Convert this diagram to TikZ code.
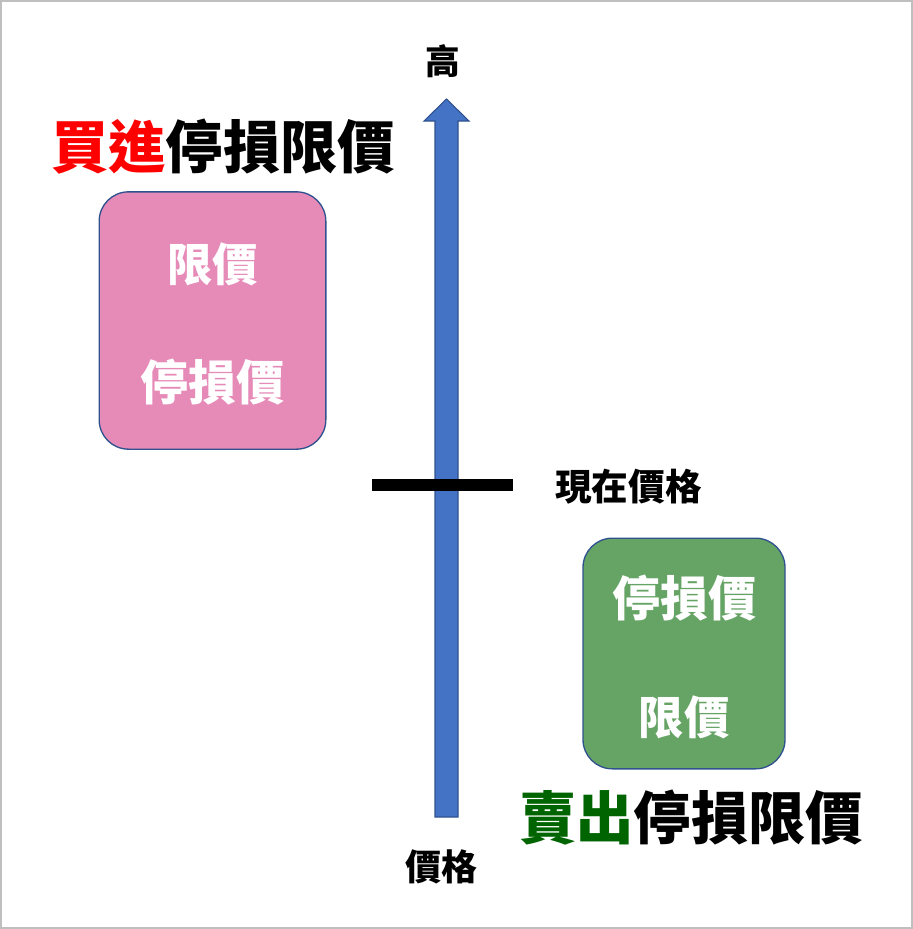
\documentclass[tikz,border=0pt]{standalone}
\usepackage{fontspec}
\newfontfamily\cjk{Noto Sans CJK TC}
\definecolor{framegray}{HTML}{BFBFBF}
\definecolor{arrowblue}{HTML}{4472C4}
\definecolor{edgeblue}{HTML}{2F528F}
\definecolor{buypink}{HTML}{E68AB8}
\definecolor{sellgreen}{HTML}{66A466}
\definecolor{buyred}{HTML}{FF0000}
\definecolor{selldark}{HTML}{006400}
\tikzset{
  cjktext/.style={inner sep=0pt, font=\cjk\bfseries},
  pricebox/.style={draw=edgeblue, line width=1pt, rounded corners=22pt, inner sep=0pt},
}
\begin{document}
\begin{tikzpicture}[x=0.75pt, y=-0.75pt]

\useasboundingbox (0,0) rectangle (913,929);
\draw[framegray, line width=1.5pt] (1,1) rectangle (912,928);

% ============================
% Price axis
% ============================
\coordinate (tip) at (446.5,99);
\draw[edgeblue, fill=arrowblue, line width=0.8pt]
  (435,817) -- (435,121) -- (424,121) -- (tip) -- (469,121)
  -- (458,121) -- (458,817) -- cycle;

\node[cjktext] (high) at (443,61) {\fontsize{26pt}{26pt}\selectfont 高};
\node[cjktext] (price) at (441,867) {\fontsize{27pt}{27pt}\selectfont 價格};

% ============================
% Current price
% ============================
\coordinate (barL) at (372,485);
\coordinate (barR) at (513,485);
\draw[line width=9pt] (barL) -- (barR);
\node[cjktext, anchor=west] (now) at (555,487) {\fontsize{27.5pt}{27.5pt}\selectfont 現在價格};

% ============================
% Buy stop-limit
% ============================
\node[cjktext] (buytitle) at (223,147)
  {\fontsize{43pt}{43pt}\selectfont\textcolor{buyred}{買進}停損限價};
\node[pricebox, fill=buypink, minimum width=170pt, minimum height=193pt] (buy) at (212.5,320.5) {};
\node[cjktext, white] (buylimit) at (212.5,264) {\fontsize{34pt}{34pt}\selectfont 限價};
\node[cjktext, white] (buystop) at (212,382) {\fontsize{36pt}{36pt}\selectfont 停損價};

% ============================
% Sell stop-limit
% ============================
\node[pricebox, fill=sellgreen, minimum width=151.5pt, minimum height=173pt] (sell) at (684,653.5) {};
\node[cjktext, white] (sellstop) at (684,598) {\fontsize{36pt}{36pt}\selectfont 停損價};
\node[cjktext, white] (selllimit) at (684,717) {\fontsize{34pt}{34pt}\selectfont 限價};
\node[cjktext] (selltitle) at (691,818)
  {\fontsize{43pt}{43pt}\selectfont\textcolor{selldark}{賣出}停損限價};

\end{tikzpicture}
\end{document}
